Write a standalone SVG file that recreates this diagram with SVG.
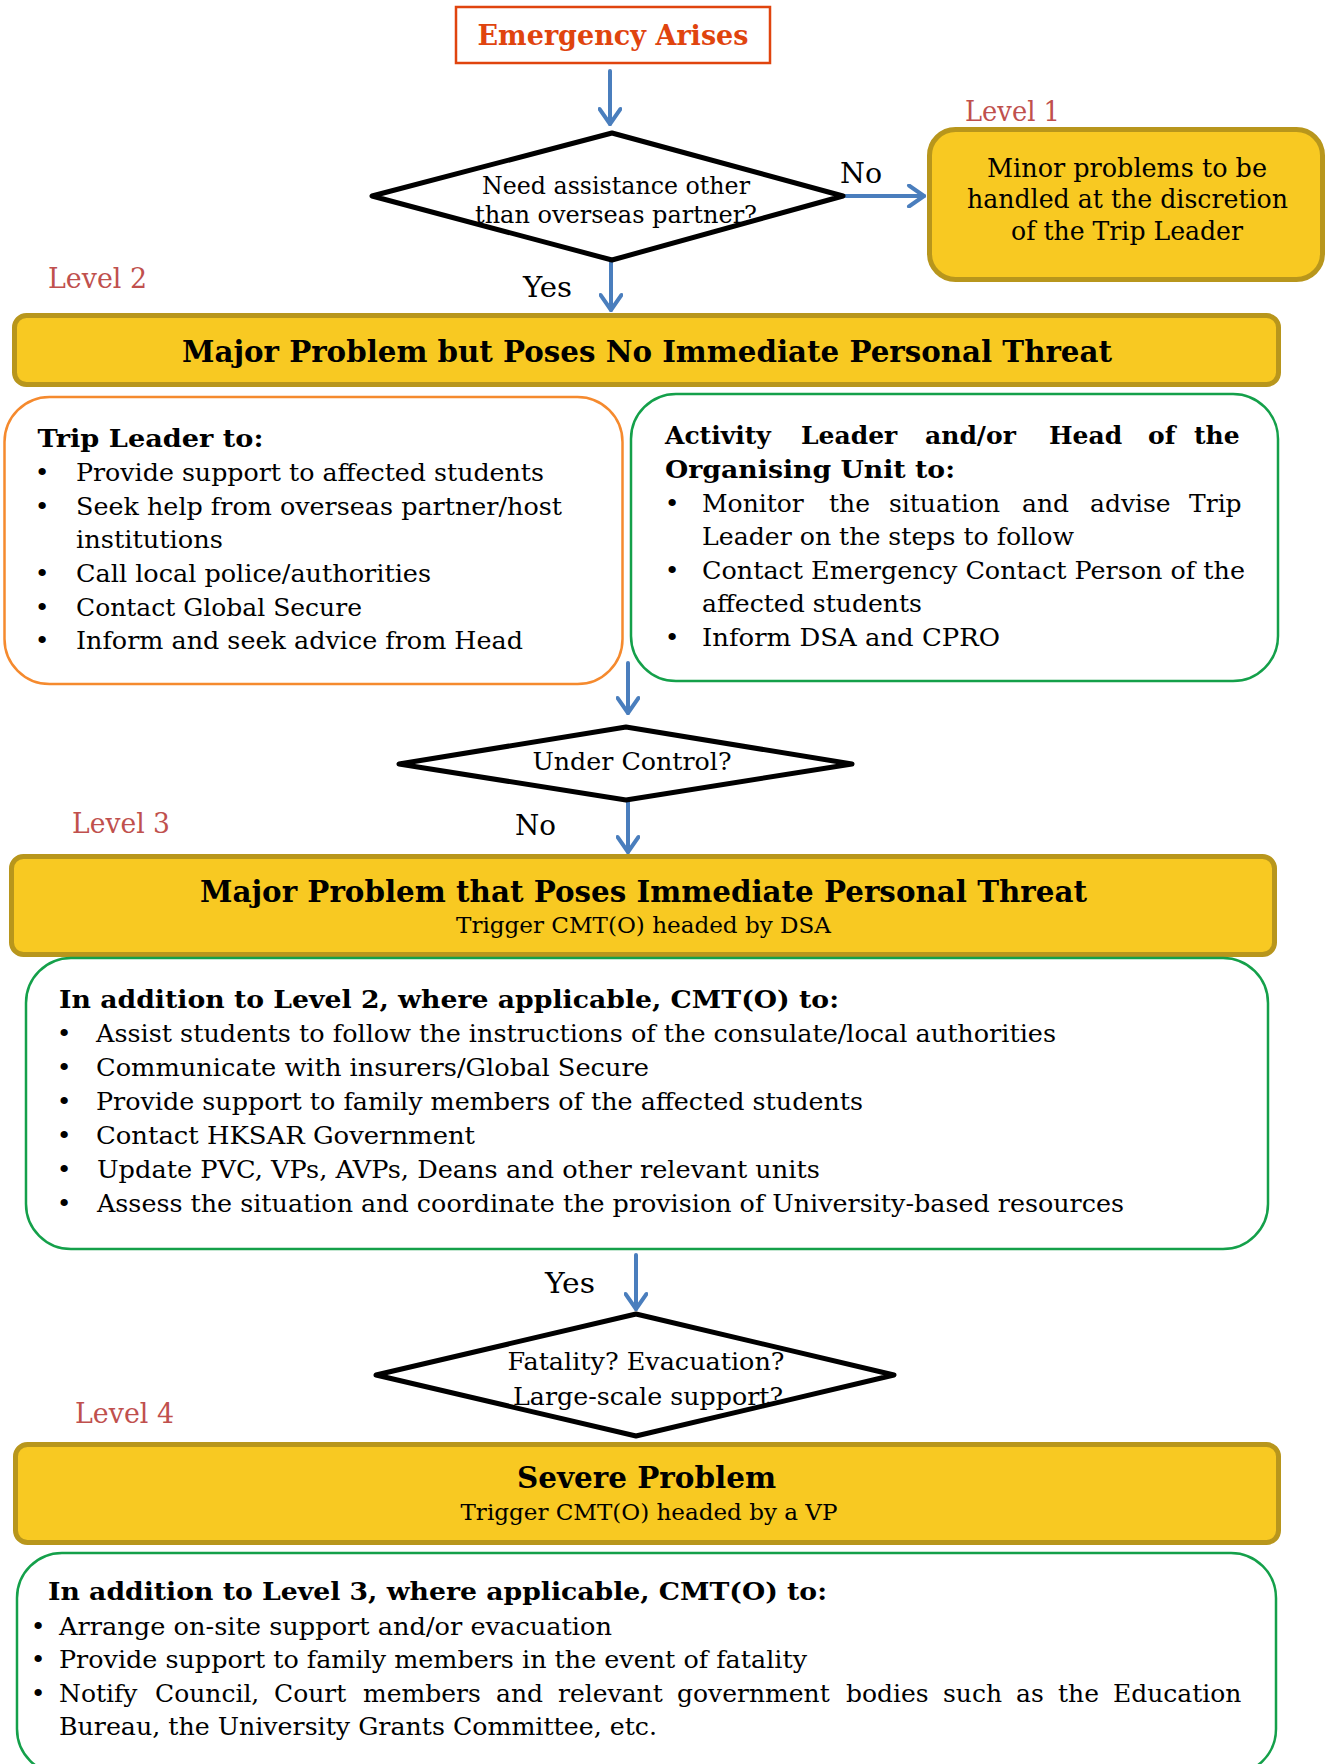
<svg xmlns="http://www.w3.org/2000/svg" width="1330" height="1764" viewBox="0 0 1330 1764">
<style>
text{font-family:"DejaVu Serif","Liberation Serif",serif;fill:#000}
.body{font-size:25px}
.hd{font-size:25px;font-weight:bold}
.lvl{font-size:28px;fill:#C0504D}
.ttl{font-size:30px;font-weight:bold}
.sub{font-size:23px}
.lbl{font-size:28px}
.dt{font-size:24.5px}
.bx{font-size:25.5px}
.bar{fill:#F8C922;stroke:#B8961C;stroke-width:5}
.dia{fill:#fff;stroke:#000;stroke-width:5;stroke-linejoin:round}
.og{fill:#fff;stroke:#F58A2E;stroke-width:2.5}
.gr{fill:#fff;stroke:#14A04A;stroke-width:2.5}
.conn{fill:none;stroke:#4A7EBD;stroke-width:4;stroke-linecap:round}
.m{text-anchor:middle}
</style>
<defs>
<marker id="ah" viewBox="0 0 24 24" refX="18" refY="12" markerWidth="24" markerHeight="24" markerUnits="userSpaceOnUse" orient="auto">
<path d="M3,1.5 L18,12 L3,22.5" fill="none" stroke="#4A7EBD" stroke-width="4" stroke-linecap="round" stroke-linejoin="round"/>
</marker>
</defs>
<rect width="1330" height="1764" fill="#fff"/>

<g id="connectors" class="conn" marker-end="url(#ah)">
<path d="M610,71 L610,124"/>
<path d="M845,196 L924,196"/>
<path d="M611,262 L611,310"/>
<path d="M628,663 L628,713"/>
<path d="M628,802 L628,852"/>
<path d="M636,1255 L636,1309"/>
</g>

<g id="labels">
<text class="lbl" x="840" y="183" textLength="42" lengthAdjust="spacingAndGlyphs">No</text>
<text class="lbl" x="523" y="297" textLength="49" lengthAdjust="spacingAndGlyphs">Yes</text>
<text class="lbl" x="515" y="835" textLength="41" lengthAdjust="spacingAndGlyphs">No</text>
<text class="lbl" x="545" y="1293" textLength="50" lengthAdjust="spacingAndGlyphs">Yes</text>
<text class="lvl" x="965" y="121" textLength="95" lengthAdjust="spacingAndGlyphs">Level 1</text>
<text class="lvl" x="48" y="288" textLength="99" lengthAdjust="spacingAndGlyphs">Level 2</text>
<text class="lvl" x="72" y="833" textLength="98" lengthAdjust="spacingAndGlyphs">Level 3</text>
<text class="lvl" x="75" y="1423" textLength="99" lengthAdjust="spacingAndGlyphs">Level 4</text>
</g>

<g id="emergency">
<rect x="456" y="7" width="314" height="56" fill="#fff" stroke="#E0440E" stroke-width="2.5"/>
<text class="m" x="613" y="45" style="font-size:28px;font-weight:bold;fill:#E0440E" textLength="271" lengthAdjust="spacingAndGlyphs">Emergency Arises</text>
</g>

<g id="decision1">
<polygon class="dia" points="372,196 612,133 843,196 612,260"/>
<text class="dt m" x="616" y="194" textLength="268" lengthAdjust="spacingAndGlyphs">Need assistance other</text>
<text class="dt m" x="616" y="223" textLength="282" lengthAdjust="spacingAndGlyphs">than overseas partner?</text>
</g>

<g id="level1">
<rect class="bar" x="929.5" y="129.5" width="393" height="150" rx="26"/>
<text class="bx m" x="1127" y="177" textLength="280" lengthAdjust="spacingAndGlyphs">Minor problems to be</text>
<text class="bx m" x="1127.5" y="208" textLength="321" lengthAdjust="spacingAndGlyphs">handled at the discretion</text>
<text class="bx m" x="1127" y="240" textLength="232" lengthAdjust="spacingAndGlyphs">of the Trip Leader</text>
</g>

<g id="level2">
<rect class="bar" x="14.5" y="315.5" width="1264" height="69" rx="12"/>
<text class="ttl m" x="647" y="362" textLength="930" lengthAdjust="spacingAndGlyphs">Major Problem but Poses No Immediate Personal Threat</text>
</g>

<g id="tripLeader">
<rect class="og" x="4.5" y="397" width="618" height="287" rx="45"/>
<text class="hd" x="37.5" y="447" textLength="226" lengthAdjust="spacingAndGlyphs">Trip Leader to:</text>
<text class="body m" x="42" y="481">•</text>
<text class="body" x="76" y="481" textLength="468" lengthAdjust="spacingAndGlyphs">Provide support to affected students</text>
<text class="body m" x="42" y="515">•</text>
<text class="body" x="76" y="515" textLength="486" lengthAdjust="spacingAndGlyphs">Seek help from overseas partner/host</text>
<text class="body" x="76" y="548" textLength="147" lengthAdjust="spacingAndGlyphs">institutions</text>
<text class="body m" x="42" y="582">•</text>
<text class="body" x="76" y="582" textLength="355" lengthAdjust="spacingAndGlyphs">Call local police/authorities</text>
<text class="body m" x="42" y="616">•</text>
<text class="body" x="76" y="616" textLength="286" lengthAdjust="spacingAndGlyphs">Contact Global Secure</text>
<text class="body m" x="42" y="649">•</text>
<text class="body" x="76" y="649" textLength="447" lengthAdjust="spacingAndGlyphs">Inform and seek advice from Head</text>
</g>

<g id="activityLeader">
<rect class="gr" x="631" y="394" width="647" height="287" rx="45"/>
<text class="hd" y="444"><tspan x="665">Activity</tspan><tspan x="801">Leader</tspan><tspan x="925">and/or</tspan><tspan x="1049">Head</tspan><tspan x="1148">of</tspan><tspan x="1194">the</tspan></text>
<text class="hd" x="665" y="478" textLength="290" lengthAdjust="spacingAndGlyphs">Organising Unit to:</text>
<text class="body m" x="672" y="512">•</text>
<text class="body" y="512"><tspan x="702">Monitor</tspan><tspan x="829">the</tspan><tspan x="889">situation</tspan><tspan x="1022">and</tspan><tspan x="1090">advise</tspan><tspan x="1189">Trip</tspan></text>
<text class="body" x="702" y="545" textLength="372" lengthAdjust="spacingAndGlyphs">Leader on the steps to follow</text>
<text class="body m" x="672" y="579">•</text>
<text class="body" x="702" y="579" textLength="543" lengthAdjust="spacingAndGlyphs">Contact Emergency Contact Person of the</text>
<text class="body" x="702" y="612" textLength="220" lengthAdjust="spacingAndGlyphs">affected students</text>
<text class="body m" x="672" y="646">•</text>
<text class="body" x="702" y="646" textLength="298" lengthAdjust="spacingAndGlyphs">Inform DSA and CPRO</text>
</g>

<g id="decision2">
<polygon class="dia" points="399,764 626,727 852,764 626,800"/>
<text class="m" x="632" y="770" style="font-size:24px" textLength="199" lengthAdjust="spacingAndGlyphs">Under Control?</text>
</g>

<g id="level3">
<rect class="bar" x="11.5" y="856.5" width="1263" height="98" rx="12"/>
<text class="ttl m" x="643.5" y="902" textLength="887" lengthAdjust="spacingAndGlyphs">Major Problem that Poses Immediate Personal Threat</text>
<text class="sub m" x="643.5" y="933" textLength="375" lengthAdjust="spacingAndGlyphs">Trigger CMT(O) headed by DSA</text>
</g>

<g id="level3Actions">
<rect class="gr" x="26" y="958" width="1242" height="291" rx="45"/>
<text class="hd" x="59" y="1008" textLength="780" lengthAdjust="spacingAndGlyphs">In addition to Level 2, where applicable, CMT(O) to:</text>
<text class="body m" x="64" y="1042">•</text>
<text class="body" x="96" y="1042" textLength="960" lengthAdjust="spacingAndGlyphs">Assist students to follow the instructions of the consulate/local authorities</text>
<text class="body m" x="64" y="1076">•</text>
<text class="body" x="96" y="1076" textLength="553" lengthAdjust="spacingAndGlyphs">Communicate with insurers/Global Secure</text>
<text class="body m" x="64" y="1110">•</text>
<text class="body" x="96" y="1110" textLength="767" lengthAdjust="spacingAndGlyphs">Provide support to family members of the affected students</text>
<text class="body m" x="64" y="1144">•</text>
<text class="body" x="96" y="1144" textLength="379" lengthAdjust="spacingAndGlyphs">Contact HKSAR Government</text>
<text class="body m" x="64" y="1178">•</text>
<text class="body" x="97" y="1178" textLength="723" lengthAdjust="spacingAndGlyphs">Update PVC, VPs, AVPs, Deans and other relevant units</text>
<text class="body m" x="64" y="1212">•</text>
<text class="body" x="97" y="1212" textLength="1027" lengthAdjust="spacingAndGlyphs">Assess the situation and coordinate the provision of University-based resources</text>
</g>

<g id="decision3">
<polygon class="dia" points="376,1375 636,1314 894,1375 636,1436"/>
<text class="dt m" x="646" y="1370" textLength="277" lengthAdjust="spacingAndGlyphs">Fatality? Evacuation?</text>
<text class="dt m" x="648" y="1405" textLength="270" lengthAdjust="spacingAndGlyphs">Large-scale support?</text>
</g>

<g id="level4">
<rect class="bar" x="15.5" y="1444.5" width="1263" height="98" rx="12"/>
<text class="ttl m" x="646.5" y="1488" textLength="259" lengthAdjust="spacingAndGlyphs">Severe Problem</text>
<text class="sub m" x="649" y="1520" textLength="377" lengthAdjust="spacingAndGlyphs">Trigger CMT(O) headed by a VP</text>
</g>

<g id="level4Actions">
<rect class="gr" x="17" y="1553" width="1259" height="221" rx="45"/>
<text class="hd" x="48" y="1600" textLength="779" lengthAdjust="spacingAndGlyphs">In addition to Level 3, where applicable, CMT(O) to:</text>
<text class="body m" x="38" y="1635">•</text>
<text class="body" x="59" y="1635" textLength="553" lengthAdjust="spacingAndGlyphs">Arrange on-site support and/or evacuation</text>
<text class="body m" x="38" y="1668">•</text>
<text class="body" x="59" y="1668" textLength="748" lengthAdjust="spacingAndGlyphs">Provide support to family members in the event of fatality</text>
<text class="body m" x="38" y="1702">•</text>
<text class="body" y="1702"><tspan x="59">Notify</tspan><tspan x="155">Council,</tspan><tspan x="274">Court</tspan><tspan x="363">members</tspan><tspan x="496">and</tspan><tspan x="558">relevant</tspan><tspan x="677">government</tspan><tspan x="846">bodies</tspan><tspan x="943">such</tspan><tspan x="1016">as</tspan><tspan x="1058">the</tspan><tspan x="1113">Education</tspan></text>
<text class="body" x="59" y="1735" textLength="598" lengthAdjust="spacingAndGlyphs">Bureau, the University Grants Committee, etc.</text>
</g>
</svg>
